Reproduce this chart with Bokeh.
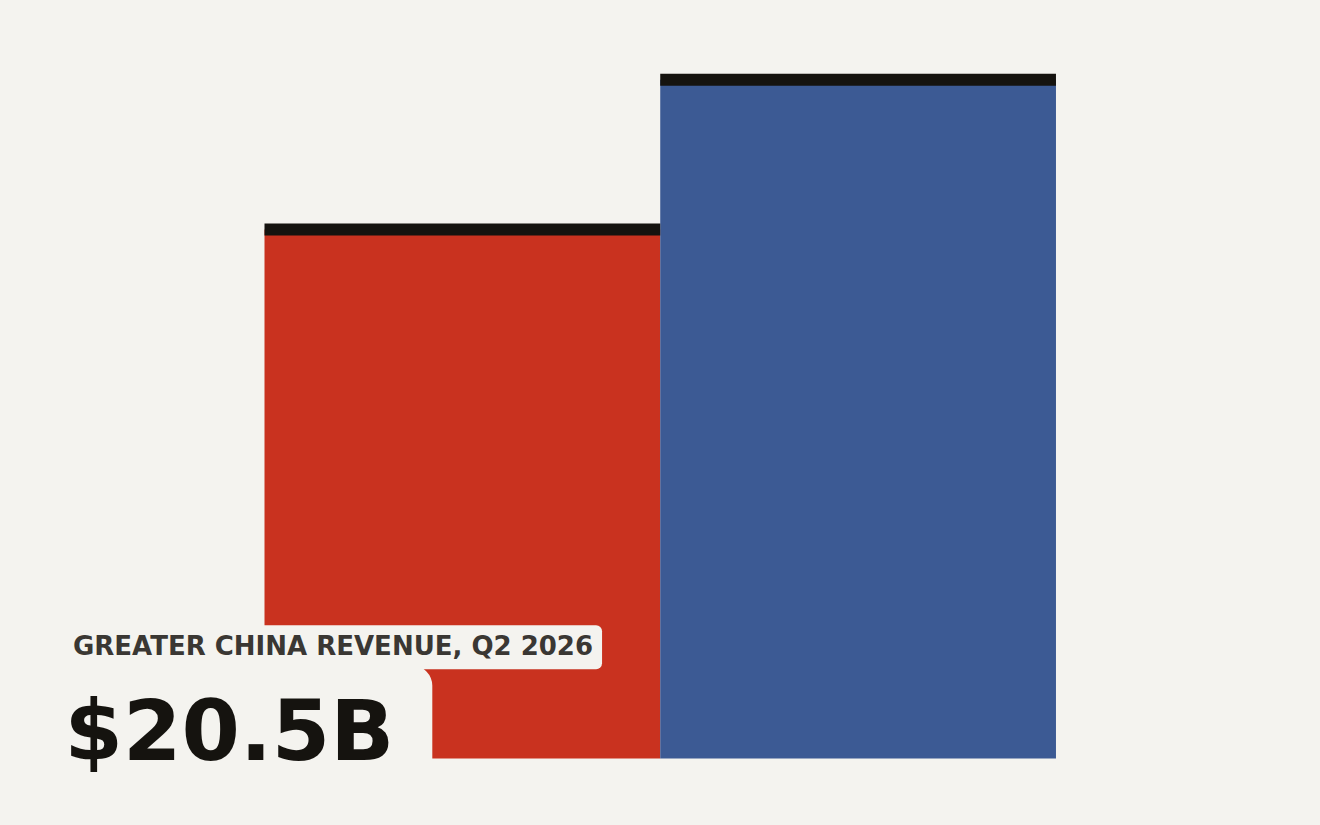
from bokeh.plotting import figure
from bokeh.models import ColumnDataSource, Range1d, Label
from bokeh.embed import file_html
from bokeh.resources import INLINE

# ---- data ----
categories = ["Greater China", "Comparison"]
positions = [0, 1]
values = [20.5, 26.3]
bar_colors = ["#c9321f", "#3c5a94"]
headline = "$20.5B"
caption = "GREATER CHINA REVENUE, Q2 2026"

BG = "#f4f3ef"
CAP = "#15130f"

src = ColumnDataSource(dict(x=positions, top=values, color=bar_colors, cat=categories))

p = figure(width=1304, height=809, output_backend="svg", toolbar_location=None,
           x_range=Range1d(-1.1671, 2.1280), y_range=Range1d(-1.9764, 29.374),
           min_border=0, min_border_left=0, min_border_right=0,
           min_border_top=0, min_border_bottom=0)
p.background_fill_color = BG
p.border_fill_color = BG
p.outline_line_color = None
p.axis.visible = False
p.grid.visible = False

p.vbar(x="x", top="top", bottom=0, width=1.0, fill_color="color", line_color=None, source=src)
p.rect(x="x", y="top", width=1.0, height=12, height_units="screen",
       fill_color=CAP, line_color=None, source=src)

big = Label(x=-1.081, y=0.81, text=headline, text_font="DejaVu Sans", text_font_style="bold",
            text_font_size="84px", text_color=CAP, text_align="left", text_baseline="alphabetic",
            background_fill_color=BG, background_fill_alpha=1.0,
            padding=dict(top=16, right=38, bottom=30, left=30), border_radius=20)
p.add_layout(big)

small = Label(x=-1.0067, y=4.31, text=caption, text_font="DejaVu Sans", text_font_style="bold",
              text_font_size="26px", text_color="#3a3733", text_align="left", text_baseline="alphabetic",
              background_fill_color=BG, background_fill_alpha=1.0,
              padding=dict(top=6, right=9, bottom=8, left=9), border_radius=6)
p.add_layout(small)

html = file_html(p, INLINE)
html = html.replace("</head>", "<style>body{background:#f4f3ef;}</style></head>", 1)
open("out.html", "w").write(html)
